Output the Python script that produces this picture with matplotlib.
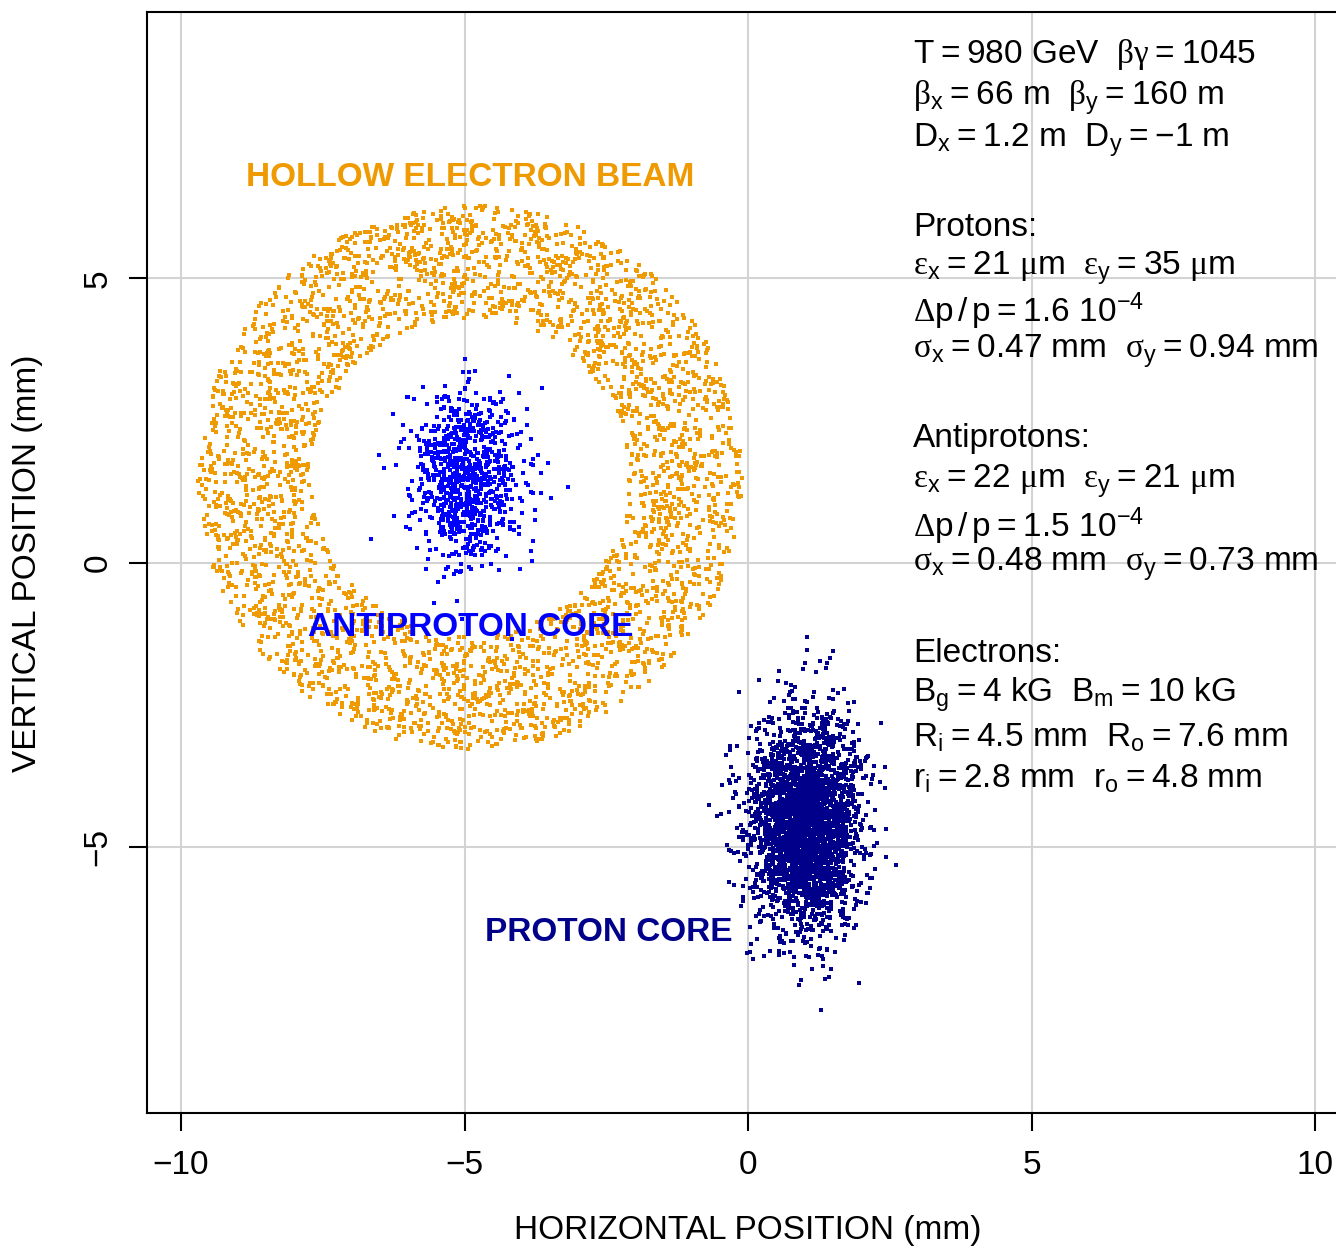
import numpy as np
import matplotlib
matplotlib.use("Agg")
import matplotlib.pyplot as plt

plt.rcParams['font.family'] = ['Liberation Sans', 'DejaVu Sans']
plt.rcParams['mathtext.fontset'] = 'custom'
plt.rcParams['mathtext.rm'] = 'Liberation Sans'
plt.rcParams['mathtext.it'] = 'Liberation Sans'
plt.rcParams['mathtext.cal'] = 'Liberation Serif'

# Beam parameters (mm)
proton_center = [1.0, -4.6]
proton_sigma = [0.47, 0.94]
proton_count = 3000
pbar_center = [-5.0, 1.5]
pbar_sigma = [0.48, 0.73]
pbar_count = 900
electron_center = [-4.9, 1.5]
electron_radii = [2.8, 4.8]
electron_count = 3500

x_ticks = [-10, -5, 0, 5, 10]
y_ticks = [-5, 0, 5]

# Macro-particle clouds sampled from the beam parameters above
rng = np.random.default_rng(1045)
px = rng.normal(proton_center[0], proton_sigma[0], proton_count)
py = rng.normal(proton_center[1], proton_sigma[1], proton_count)
ax_ = rng.normal(pbar_center[0], pbar_sigma[0], pbar_count)
ay_ = rng.normal(pbar_center[1], pbar_sigma[1], pbar_count)
u = rng.uniform(0, 1, electron_count)
phi = rng.uniform(0, 2 * np.pi, electron_count)
r = np.sqrt(electron_radii[0] ** 2 + u * (electron_radii[1] ** 2 - electron_radii[0] ** 2))
ex = electron_center[0] + r * np.cos(phi)
ey = electron_center[1] + r * np.sin(phi)

W, H = 1336, 1248
fig = plt.figure(figsize=(W / 100, H / 100), dpi=100)
xlim = (-10.6, 10.8)
ylim = (-9.69, 9.69)
ppu = 56.7
left = 147 / W
bottom = 1 - 1113 / H
ax = fig.add_axes([left, bottom, (xlim[1] - xlim[0]) * ppu / W, (1113 - 12) / H])
ax.set_xlim(*xlim)
ax.set_ylim(*ylim)

for v in x_ticks:
    ax.axvline(v, color='#D3D3D3', lw=1.5, zorder=0)
for v in y_ticks:
    ax.axhline(v, color='#D3D3D3', lw=1.5, zorder=0)

ms = 5.0
ax.scatter(ex, ey, s=ms, marker='s', color='#EE9A00', linewidths=0, zorder=2)
ax.scatter(ax_, ay_, s=ms, marker='s', color='#0000FF', linewidths=0, zorder=2)
ax.scatter(px, py, s=ms, marker='s', color='#00008B', linewidths=0, zorder=2)

FS = 24
for s in ax.spines.values():
    s.set_linewidth(1.5)
ax.set_xticks(x_ticks)
ax.set_xticklabels(['\u221210', '\u22125', '0', '5', '10'])
ax.set_yticks(y_ticks)
ax.set_yticklabels(['\u22125', '0', '5'], rotation=90, va='center')
ax.tick_params(axis='both', direction='out', length=13, width=1.5, labelsize=FS)
ax.tick_params(axis='x', pad=14)
ax.tick_params(axis='y', pad=11)

fig.text(748 / W, 1 - 1230 / H, 'HORIZONTAL POSITION (mm)', ha='center', va='center', fontsize=FS)
fig.text(28 / W, 1 - 563 / H, 'VERTICAL POSITION (mm)', ha='center', va='center', fontsize=FS, rotation=90)

ax.text(-4.9, 6.78, 'HOLLOW ELECTRON BEAM', color='#EE9A00', fontsize=FS, fontweight='bold',
        ha='center', va='center', zorder=3)
ax.text(-4.89, -1.14, 'ANTIPROTON CORE', color='#0000FF', fontsize=FS, fontweight='bold',
        ha='center', va='center', zorder=3)
ax.text(-2.45, -6.51, 'PROTON CORE', color='#00008B', fontsize=FS, fontweight='bold',
        ha='center', va='center', zorder=3)


def g(c):
    return r'\mathcal{' + c + '}'


sp = r'\ \ '
eq = r'\hspace{0.04}=\hspace{0.04}'
lines = [
    (8.80, r'$\mathrm{T}' + eq + r'980\ \mathrm{GeV}' + sp + g(r'\beta') + g(r'\gamma') + eq + r'1045$'),
    (8.06, r'$' + g(r'\beta') + r'_\mathrm{x}' + eq + r'66\ \mathrm{m}' + sp + g(r'\beta') + r'_\mathrm{y}' + eq + r'160\ \mathrm{m}$'),
    (7.32, r'$\mathrm{D}_\mathrm{x}' + eq + r'1.2\ \mathrm{m}' + sp + r'\mathrm{D}_\mathrm{y}' + eq + r'{-1}\ \mathrm{m}$'),
    (5.74, 'Protons:'),
    (5.07, r'$' + g(r'\varepsilon') + r'_\mathrm{x}' + eq + r'21\ ' + g(r'\mu') + r'\mathrm{m}' + sp + g(r'\varepsilon') + r'_\mathrm{y}' + eq + r'35\ ' + g(r'\mu') + r'\mathrm{m}$'),
    (4.23, r'$' + g(r'\Delta') + r'\mathrm{p}\,/\,\mathrm{p}' + eq + r'1.6\ 10^{-4}$'),
    (3.61, r'$' + g(r'\sigma') + r'_\mathrm{x}' + eq + r'0.47\ \mathrm{mm}' + sp + g(r'\sigma') + r'_\mathrm{y}' + eq + r'0.94\ \mathrm{mm}$'),
    (2.04, 'Antiprotons:'),
    (1.32, r'$' + g(r'\varepsilon') + r'_\mathrm{x}' + eq + r'22\ ' + g(r'\mu') + r'\mathrm{m}' + sp + g(r'\varepsilon') + r'_\mathrm{y}' + eq + r'21\ ' + g(r'\mu') + r'\mathrm{m}$'),
    (0.44, r'$' + g(r'\Delta') + r'\mathrm{p}\,/\,\mathrm{p}' + eq + r'1.5\ 10^{-4}$'),
    (-0.15, r'$' + g(r'\sigma') + r'_\mathrm{x}' + eq + r'0.48\ \mathrm{mm}' + sp + g(r'\sigma') + r'_\mathrm{y}' + eq + r'0.73\ \mathrm{mm}$'),
    (-1.76, 'Electrons:'),
    (-2.45, r'$\mathrm{B}_\mathrm{g}' + eq + r'4\ \mathrm{kG}' + sp + r'\mathrm{B}_\mathrm{m}' + eq + r'10\ \mathrm{kG}$'),
    (-3.24, r'$\mathrm{R}_\mathrm{i}' + eq + r'4.5\ \mathrm{mm}' + sp + r'\mathrm{R}_\mathrm{o}' + eq + r'7.6\ \mathrm{mm}$'),
    (-3.96, r'$\mathrm{r}_\mathrm{i}' + eq + r'2.8\ \mathrm{mm}' + sp + r'\mathrm{r}_\mathrm{o}' + eq + r'4.8\ \mathrm{mm}$'),
]
for yv, s in lines:
    ax.text(2.91, yv, s, fontsize=FS, ha='left', va='baseline', zorder=3)

fig.savefig('out.png', dpi=100)
